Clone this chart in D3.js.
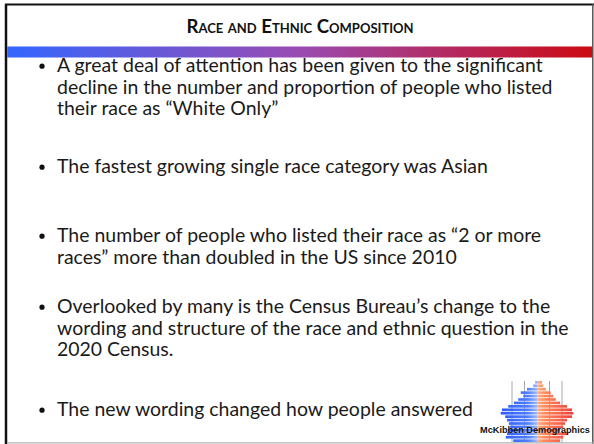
<!DOCTYPE html>
<html>
<head>
<meta charset="utf-8">
<script src="https://cdn.jsdelivr.net/npm/d3@7"></script>
<style>
  html, body { margin: 0; padding: 0; background: #fff; }
  svg { display: block; }
</style>
</head>
<body>
<div id="slide"></div>
<script>
const W = 594, H = 444;

const title = "Race and Ethnic Composition";

// bullet points, each one a list of wrapped lines
const bullets = [
  ["A great deal of attention has been given to the significant",
   "decline in the number and proportion of people who listed",
   "their race as \u201cWhite Only\u201d"],
  ["The fastest growing single race category was Asian"],
  ["The number of people who listed their race as \u201c2 or more",
   "races\u201d more than doubled in the US since 2010"],
  ["Overlooked by many is the Census Bureau\u2019s change to the",
   "wording and structure of the race and ethnic question in the",
   "2020 Census."],
  ["The new wording changed how people answered"]
];
// baseline of first line of each bullet
const bulletTops = [72, 173, 242, 313, 416];

// logo pyramid (share of population, %), youngest first
const ageGroups = ["0-4","5-9","10-14","15-19","20-24","25-29","30-34","35-39","40-44",
                   "45-49","50-54","55-59","60-64","65-69","70-74","75-79","80-84","85+"];
const male   = [1.9, 2.5, 2.4, 2.3, 2.15, 2.25, 2.4, 2.55, 2.9, 2.8, 2.3, 1.85, 1.5, 1.1, 1.3, 0.8, 0.3, 0.15];
const female = [1.85, 2.1, 2.5, 1.85, 2.1, 2.25, 2.4, 2.8, 2.9, 2.8, 2.4, 1.85, 1.5, 1.3, 1.1, 0.7, 0.5, 0.4];
const gridTicks = [-2, -1, 1, 2];

const svg = d3.select("#slide").append("svg")
  .attr("width", W).attr("height", H);

const defs = svg.append("defs");

const band = defs.append("linearGradient").attr("id", "band")
  .attr("x1", "0%").attr("x2", "100%");
band.append("stop").attr("offset", "0%").attr("stop-color", "#3366ff");
band.append("stop").attr("offset", "50%").attr("stop-color", "#9a4bb2");
band.append("stop").attr("offset", "100%").attr("stop-color", "#cc0a12");

// frame
svg.append("rect").attr("x", 6).attr("y", 5).attr("width", 587).attr("height", 438)
  .attr("fill", "#fff");
svg.append("line").attr("x1", 6).attr("x2", 6).attr("y1", 4).attr("y2", 444)
  .attr("stroke", "#111").attr("stroke-width", 2.5);
svg.append("line").attr("x1", 5).attr("x2", 594).attr("y1", 4.5).attr("y2", 4.5)
  .attr("stroke", "#111").attr("stroke-width", 2);
svg.append("line").attr("x1", 592.8).attr("x2", 592.8).attr("y1", 4).attr("y2", 444)
  .attr("stroke", "#555").attr("stroke-width", 1.5);
svg.append("line").attr("x1", 7).attr("x2", 593).attr("y1", 442.8).attr("y2", 442.8)
  .attr("stroke", "#b0b0b0").attr("stroke-width", 1.2);

// gradient band under title
svg.append("rect").attr("x", 7.2).attr("y", 46.5).attr("width", 585).attr("height", 11)
  .attr("fill", "url(#band)");

// fit text to a measured width
function fitSize(text, family, weight, variant, target, base) {
  const t = svg.append("text").text(text)
    .style("font-family", family).style("font-weight", weight)
    .style("font-variant", variant).style("font-size", base + "px");
  const w = t.node().getComputedTextLength();
  t.remove();
  return base * target / w;
}

const titleSize = fitSize(title, "Lato", "bold", "small-caps", 226, 13);
svg.append("text")
  .attr("x", 300).attr("y", 32.5)
  .attr("text-anchor", "middle")
  .style("font-family", "Lato").style("font-weight", "bold")
  .style("font-variant", "small-caps")
  .style("font-size", titleSize + "px")
  .attr("fill", "#111")
  .text(title);

const bodySize = fitSize(bullets[0][0], "Lato", "normal", "normal", 486, 17);
const lineH = 21.5;

const gb = svg.append("g").attr("class", "bullets");
bullets.forEach((lines, i) => {
  const y0 = bulletTops[i];
  gb.append("circle").attr("cx", 42).attr("cy", y0 - bodySize * 0.3).attr("r", 2.6)
    .attr("fill", "#111");
  lines.forEach((ln, j) => {
    gb.append("text")
      .attr("x", 57).attr("y", y0 + j * lineH)
      .style("font-family", "Lato").style("font-size", bodySize + "px")
      .attr("fill", "#1a1a1a")
      .text(ln);
  });
});

// logo
const logo = svg.append("g").attr("class", "logo");
const cx = 537;
const xs = d3.scaleLinear().domain([0, 1]).range([0, 12.5]);
const ys = d3.scaleBand().domain(ageGroups.slice().reverse()).range([381, 442]).paddingInner(0.22);

const gl = defs.append("linearGradient").attr("id", "maleGrad")
  .attr("gradientUnits", "userSpaceOnUse")
  .attr("x1", cx - xs(3)).attr("x2", cx).attr("y1", 0).attr("y2", 0);
gl.append("stop").attr("offset", "0%").attr("stop-color", "#2a58ff");
gl.append("stop").attr("offset", "75%").attr("stop-color", "#4f7dff");
gl.append("stop").attr("offset", "100%").attr("stop-color", "#9ab8ff");
const gr = defs.append("linearGradient").attr("id", "femaleGrad")
  .attr("gradientUnits", "userSpaceOnUse")
  .attr("x1", cx).attr("x2", cx + xs(3)).attr("y1", 0).attr("y2", 0);
gr.append("stop").attr("offset", "0%").attr("stop-color", "#ffb48a");
gr.append("stop").attr("offset", "20%").attr("stop-color", "#ff8a5c");
gr.append("stop").attr("offset", "100%").attr("stop-color", "#f03a3a");

logo.selectAll("line.grid").data(gridTicks).join("line")
  .attr("class", "grid")
  .attr("x1", d => cx + xs(d)).attr("x2", d => cx + xs(d))
  .attr("y1", 381).attr("y2", 442)
  .attr("stroke", "#a8a8a8").attr("stroke-width", 1);

logo.selectAll("rect.m").data(ageGroups).join("rect")
  .attr("class", "m")
  .attr("x", (d, i) => cx - xs(male[i]))
  .attr("y", d => ys(d))
  .attr("width", (d, i) => xs(male[i]))
  .attr("height", ys.bandwidth())
  .attr("fill", "url(#maleGrad)");

logo.selectAll("rect.f").data(ageGroups).join("rect")
  .attr("class", "f")
  .attr("x", cx)
  .attr("y", d => ys(d))
  .attr("width", (d, i) => xs(female[i]))
  .attr("height", ys.bandwidth())
  .attr("fill", "url(#femaleGrad)");

const logoText = "McKibben Demographics";
const logoSize = fitSize(logoText, "Liberation Sans", "bold", "normal", 110, 9);
logo.append("text")
  .attr("x", 535).attr("y", 432.5)
  .attr("text-anchor", "middle")
  .style("font-family", "Liberation Sans").style("font-weight", "bold")
  .style("font-size", logoSize + "px")
  .attr("fill", "#111")
  .text(logoText);
</script>
</body>
</html>
